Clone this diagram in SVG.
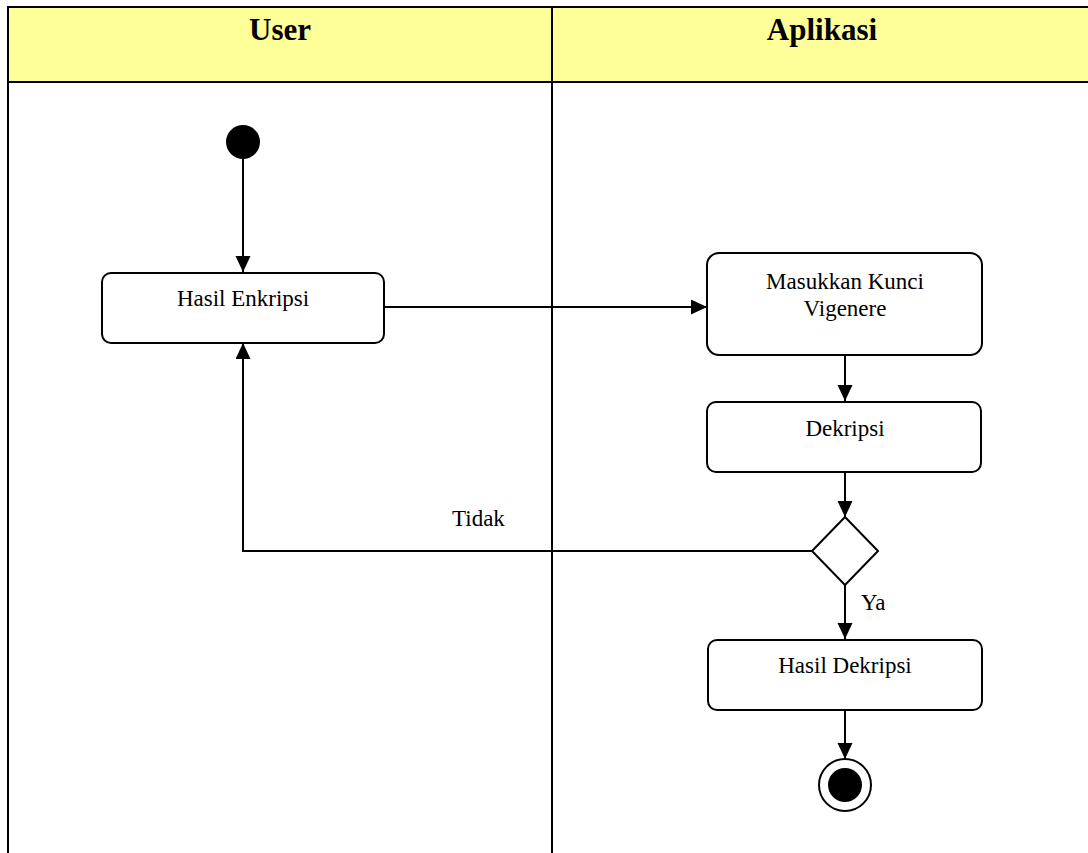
<svg xmlns="http://www.w3.org/2000/svg" width="1088" height="853" viewBox="0 0 1088 853">
  <style>
    .lane-head { fill: #FFFF99; }
    .frame { stroke: #000; stroke-width: 2; fill: none; }
    .title { font-family: "Liberation Serif", "Times New Roman", serif; font-size: 31px; font-weight: bold; fill: #000; text-anchor: middle; }
    .act { fill: #fff; stroke: #000; stroke-width: 2; }
    .label { font-family: "Liberation Serif", "Times New Roman", serif; font-size: 23px; fill: #000; text-anchor: middle; }
    .guard { font-family: "Liberation Serif", "Times New Roman", serif; font-size: 23px; fill: #000; }
    .flow { stroke: #000; stroke-width: 2; fill: none; marker-end: url(#arrow); }
  </style>
  <defs>
    <marker id="arrow" markerUnits="userSpaceOnUse" markerWidth="17" markerHeight="16" refX="16" refY="7.5" orient="auto">
      <path d="M0,0 L16,7.5 L0,15 Z" fill="#000"/>
    </marker>
  </defs>

  <rect width="1088" height="853" fill="#fff"/>

  <!-- swimlanes -->
  <g id="lanes">
    <rect class="lane-head" x="8" y="7" width="1080" height="75"/>
    <line class="frame" x1="8" y1="7" x2="1088" y2="7"/>
    <line class="frame" x1="8" y1="82" x2="1088" y2="82"/>
    <line class="frame" x1="8" y1="6" x2="8" y2="853"/>
    <line class="frame" x1="552" y1="7" x2="552" y2="853"/>
    <text class="title" x="280" y="40">User</text>
    <text class="title" x="822" y="40">Aplikasi</text>
  </g>

  <!-- control flows -->
  <g id="connectors">
    <line class="flow" x1="243" y1="159" x2="243" y2="272"/>
    <line class="flow" x1="384" y1="307" x2="707" y2="307"/>
    <line class="flow" x1="845" y1="355" x2="845" y2="401"/>
    <line class="flow" x1="845" y1="472" x2="845" y2="517"/>
    <polyline class="flow" points="812,551 243,551 243,343"/>
    <line class="flow" x1="845" y1="585" x2="845" y2="639"/>
    <line class="flow" x1="845" y1="710" x2="845" y2="759"/>
    <text class="guard" x="452" y="526">Tidak</text>
    <text class="guard" x="861" y="610">Ya</text>
  </g>

  <g id="start">
    <circle cx="243" cy="142" r="17" fill="#000"/>
  </g>

  <g id="hasil-enkripsi">
    <rect class="act" x="102" y="273" width="282" height="70" rx="9"/>
    <text class="label" x="243" y="306">Hasil Enkripsi</text>
  </g>

  <g id="masukkan-kunci">
    <rect class="act" x="707" y="253" width="275" height="102" rx="12"/>
    <text class="label" x="845" y="289">Masukkan Kunci</text>
    <text class="label" x="845" y="316">Vigenere</text>
  </g>

  <g id="dekripsi">
    <rect class="act" x="707" y="402" width="274" height="70" rx="9"/>
    <text class="label" x="845" y="436">Dekripsi</text>
  </g>

  <g id="cek-hasil">
    <polygon class="act" points="845,517 878,551 845,585 812,551"/>
  </g>

  <g id="hasil-dekripsi">
    <rect class="act" x="708" y="640" width="274" height="70" rx="9"/>
    <text class="label" x="845" y="673">Hasil Dekripsi</text>
  </g>

  <g id="end">
    <circle cx="845" cy="785" r="26" fill="#fff" stroke="#000" stroke-width="2"/>
    <circle cx="845" cy="785" r="17" fill="#000"/>
  </g>
</svg>
